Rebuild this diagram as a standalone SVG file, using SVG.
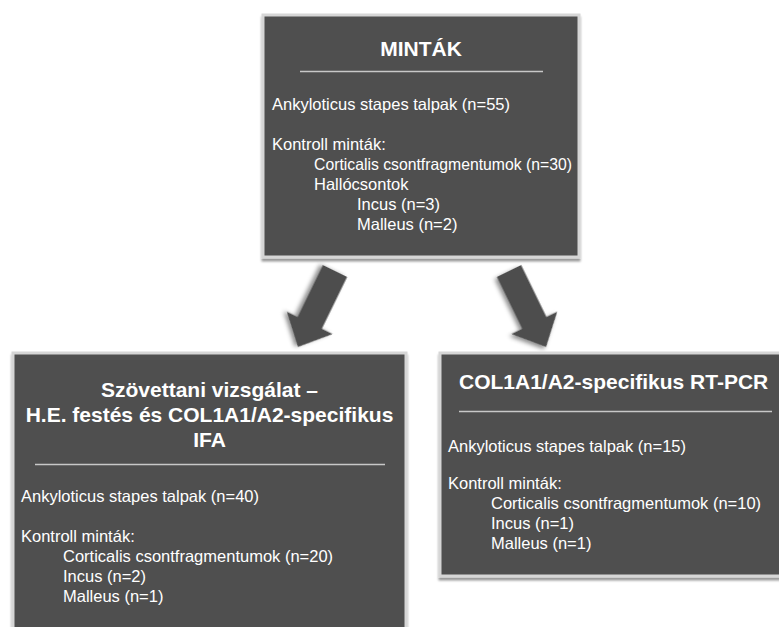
<svg xmlns="http://www.w3.org/2000/svg" width="779" height="627" viewBox="0 0 779 627">
  <defs>
    <style>
      .box { fill: #4f4f4f; stroke: #d6d6d6; stroke-width: 3; }
      .sep { stroke: #c8c8c8; stroke-width: 1.5; }
      .title { font-family: "Liberation Sans", Arial, Helvetica, sans-serif; font-size: 21px; font-weight: bold; fill: #ffffff; }
      .body { font-family: "Liberation Sans", Arial, Helvetica, sans-serif; font-size: 16.5px; fill: #ffffff; }
      .arrow { fill: #4d4d4d; }
    </style>
    <filter id="boxShadow" x="-10%" y="-10%" width="120%" height="120%">
      <feDropShadow dx="0" dy="3" stdDeviation="1.2" flood-color="#000" flood-opacity="0.4"/>
    </filter>
    <filter id="arrowShadow" x="-30%" y="-30%" width="160%" height="160%">
      <feDropShadow dx="1" dy="3" stdDeviation="2" flood-color="#000" flood-opacity="0.45"/>
    </filter>
    <polygon id="blockArrow" points="0,-13.5 57.7,-13.5 57.7,-25.5 84.5,0 57.7,25.5 57.7,13.5 0,13.5"/>
  </defs>
  <rect width="779" height="627" fill="#ffffff"/>

  <g id="connectors">
    <use href="#blockArrow" class="arrow" filter="url(#arrowShadow)" transform="translate(335,271) rotate(116)"/>
    <use href="#blockArrow" class="arrow" filter="url(#arrowShadow)" transform="translate(509,271) rotate(64)"/>
  </g>

  <g id="node-mintak">
    <rect class="box" x="263" y="15" width="316" height="242" filter="url(#boxShadow)"/>
    <text class="title" x="421" y="56" text-anchor="middle">MINTÁK</text>
    <line class="sep" x1="300" y1="71.5" x2="543" y2="71.5"/>
    <text class="body" x="272" y="110">Ankyloticus stapes talpak (n=55)</text>
    <text class="body" x="272" y="150">Kontroll minták:</text>
    <text class="body" x="314" y="170" textLength="258" lengthAdjust="spacingAndGlyphs">Corticalis csontfragmentumok (n=30)</text>
    <text class="body" x="314" y="190">Hallócsontok</text>
    <text class="body" x="357" y="210">Incus (n=3)</text>
    <text class="body" x="357" y="230">Malleus (n=2)</text>
  </g>

  <g id="node-szovettani">
    <rect class="box" x="13" y="353" width="393" height="300" filter="url(#boxShadow)"/>
    <text class="title" x="209.5" y="397" text-anchor="middle">Szövettani vizsgálat –</text>
    <text class="title" x="209.5" y="422" text-anchor="middle">H.E. festés és COL1A1/A2-specifikus</text>
    <text class="title" x="209.5" y="447" text-anchor="middle">IFA</text>
    <line class="sep" x1="35" y1="464.5" x2="385" y2="464.5"/>
    <text class="body" x="21" y="502">Ankyloticus stapes talpak (n=40)</text>
    <text class="body" x="21" y="542">Kontroll minták:</text>
    <text class="body" x="63" y="562">Corticalis csontfragmentumok (n=20)</text>
    <text class="body" x="63" y="582">Incus (n=2)</text>
    <text class="body" x="63" y="602">Malleus (n=1)</text>
  </g>

  <g id="node-rtpcr">
    <rect class="box" x="440" y="353" width="360" height="223" filter="url(#boxShadow)"/>
    <text class="title" x="459" y="389">COL1A1/A2-specifikus RT-PCR</text>
    <line class="sep" x1="459" y1="411.5" x2="772" y2="411.5"/>
    <text class="body" x="448" y="452">Ankyloticus stapes talpak (n=15)</text>
    <text class="body" x="448" y="489">Kontroll minták:</text>
    <text class="body" x="491" y="509">Corticalis csontfragmentumok (n=10)</text>
    <text class="body" x="491" y="529">Incus (n=1)</text>
    <text class="body" x="491" y="549">Malleus (n=1)</text>
  </g>
</svg>
